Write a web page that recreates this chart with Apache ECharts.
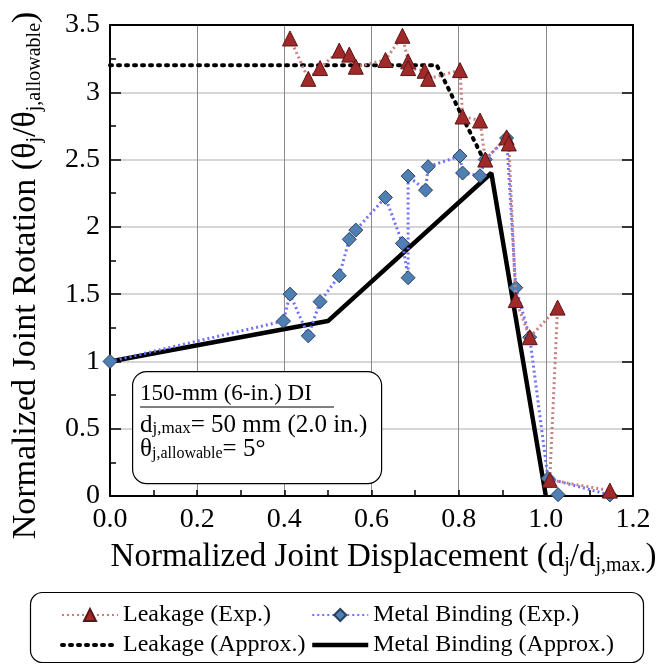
<!DOCTYPE html>
<html><head><meta charset="utf-8">
<script src="https://cdn.jsdelivr.net/npm/echarts@6/dist/echarts.min.js"></script>
<style>html,body{margin:0;padding:0;background:#fff}#c{width:658px;height:666px}</style>
</head><body><div id="c"></div>
<script>
// ---- data ----
const leakExpX = [0.413,0.455,0.482,0.526,0.549,0.564,0.632,0.671,0.684,0.684,0.722,0.730,0.803,0.809,0.849,0.861,0.910,0.915,0.931,0.963,1.027,1.009,1.147];
const leakExpY = [3.40,3.10,3.18,3.31,3.28,3.19,3.24,3.42,3.23,3.18,3.16,3.10,3.165,2.82,2.79,2.50,2.665,2.62,1.456,1.18,1.40,0.12,0.04];
const metalExpX = [0,0.398,0.413,0.455,0.482,0.526,0.549,0.564,0.632,0.671,0.684,0.684,0.724,0.730,0.803,0.809,0.849,0.861,0.910,0.931,0.963,1.005,1.147,'-',1.028];
const metalExpY = [1.0,1.30,1.50,1.19,1.444,1.637,1.907,1.976,2.219,1.877,1.622,2.377,2.273,2.447,2.526,2.40,2.38,2.50,2.66,1.548,1.18,0.13,0.008,'-',0.01];
const leakApproxX = [0,0.75,0.865];
const leakApproxY = [3.2,3.2,2.45];
const metalApproxX = [0,0.5,0.875,1.0];
const metalApproxY = [1.0,1.3,2.4,0];
const seriesNames = ['Leakage (Exp.)','Metal Binding (Exp.)','Leakage (Approx.)','Metal Binding (Approx.)'];
const xTicks = {min:0, max:1.2, interval:0.2};
const yTicks = {min:0, max:3.5, interval:0.5};

const zip = (a,b)=>a.map((v,i)=>[v,b[i]]);
const F = 'Liberation Serif';
const chart = echarts.init(document.getElementById('c'));
const G = {l:110, r:633, t:25, b:496};
const subRich = {s:{fontFamily:F, fontSize:20, color:'#000', verticalAlign:'bottom', lineHeight:19}};
const dotted = {color:'#000', width:4, type:[2,6], cap:'round'};
const solid = {color:'#000', width:4.5};

chart.setOption({
  animation:false,
  textStyle:{fontFamily:F},
  grid:{left:G.l, right:658-G.r, top:G.t, bottom:666-G.b, show:false, containLabel:false, outerBoundsMode:'none'},
  xAxis:[{
    type:'value', min:xTicks.min, max:xTicks.max, interval:xTicks.interval,
    axisLine:{onZero:false, lineStyle:{color:'#000', width:2}},
    axisTick:{inside:true, length:6, lineStyle:{color:'#000', width:1.5}},
    minorTick:{show:true, splitNumber:2, length:6, lineStyle:{color:'#000', width:1.5}},
    splitLine:{show:true, lineStyle:{color:'#8a8a8a', width:1}},
    axisLabel:{fontFamily:F, fontSize:28, color:'#000', margin:10, formatter:v=>v.toFixed(1)},
    name:'Normalized Joint Displacement (d{s|j}/d{s|j,max.})',
    nameLocation:'middle', nameGap:43,
    nameTextStyle:{fontFamily:F, fontSize:33, color:'#000', lineHeight:37, padding:[0,0,0,24], rich:subRich}
  },{
    type:'value', position:'top', min:xTicks.min, max:xTicks.max, interval:xTicks.interval,
    axisLine:{onZero:false, lineStyle:{color:'#000', width:2}},
    axisTick:{show:false}, axisLabel:{show:false}, splitLine:{show:false}
  }],
  yAxis:[{
    type:'value', min:yTicks.min, max:yTicks.max, interval:yTicks.interval,
    axisLine:{onZero:false, lineStyle:{color:'#000', width:2}},
    axisTick:{inside:true, length:11, lineStyle:{color:'#000', width:1.5}},
    minorTick:{show:true, splitNumber:2, length:6, lineStyle:{color:'#000', width:1.5}},
    splitLine:{show:true, lineStyle:{color:'#c8c8c8', width:1.5}},
    axisLabel:{fontFamily:F, fontSize:28, color:'#000', margin:10},
    name:'Normalized Joint Rotation (θ{s|j}/θ{s|j,allowable})',
    nameLocation:'middle', nameGap:65,
    nameTextStyle:{fontFamily:F, fontSize:34, color:'#000', lineHeight:38, padding:[0,30,0,0], rich:subRich}
  },{
    type:'value', position:'right', min:yTicks.min, max:yTicks.max, interval:yTicks.interval,
    axisLine:{onZero:false, lineStyle:{color:'#000', width:2}},
    axisTick:{inside:true, length:11, lineStyle:{color:'#000', width:1.5}},
    axisLabel:{show:false}, splitLine:{show:false}
  }],
  legend:[{
    data:[{name:seriesNames[0]}, {name:seriesNames[2], itemStyle:{opacity:0}, lineStyle:dotted}],
    orient:'vertical', left:55, top:598,
    itemWidth:56, itemHeight:15, itemGap:6,
    textStyle:{fontFamily:F, fontSize:24, color:'#000'}
  },{
    data:[{name:seriesNames[1]}, {name:seriesNames[3], itemStyle:{opacity:0}, lineStyle:solid}],
    orient:'vertical', left:305, top:598,
    itemWidth:56, itemHeight:15, itemGap:6,
    textStyle:{fontFamily:F, fontSize:24, color:'#000'}
  }],
  graphic:[
    {type:'rect', left:28, top:590, shape:{width:613, height:70, r:12},
     style:{fill:'none', stroke:'#000', lineWidth:1.2}, z:-1},
    {type:'rect', left:132, top:371, shape:{width:249, height:112, r:14},
     style:{fill:'#fff', stroke:'#000', lineWidth:1.2}, z:50},
    {type:'text', left:140, top:382, z:51,
     style:{text:'150-mm (6-in.) DI', font:'23px "Liberation Serif"', fill:'#000'}},
    {type:'line', shape:{x1:140, y1:407, x2:334, y2:407}, style:{stroke:'#000', lineWidth:1.2}, z:51},
    {type:'text', left:140, top:413, z:51,
     style:{text:'{n|d}{s|j,max}{n|= 50 mm (2.0 in.)}\n{n|θ}{s2|j,allowable}{n|= 5°}',
       rich:{n:{fontFamily:F, fontSize:25, color:'#000', lineHeight:24},
             s:{fontFamily:F, fontSize:17, color:'#000', verticalAlign:'bottom', lineHeight:10},
             s2:{fontFamily:F, fontSize:16, color:'#000', verticalAlign:'bottom', lineHeight:4}}}}
  ],
  series:[{
    name:seriesNames[0], type:'line', data:zip(leakExpX, leakExpY), clip:false, z:4,
    symbol:'triangle', symbolSize:15,
    lineStyle:{color:'#c98080', width:3, type:[2,3]},
    itemStyle:{color:'#a02a2a', borderColor:'#5a1515', borderWidth:1}
  },{
    name:seriesNames[1], type:'line', data:zip(metalExpX, metalExpY), clip:false, z:3,
    symbol:'diamond', symbolSize:14, connectNulls:false,
    lineStyle:{color:'#7070ff', width:3, type:[2,3]},
    itemStyle:{color:'#4f7fb3', borderColor:'#27425f', borderWidth:1}
  },{
    name:seriesNames[2], type:'line', data:zip(leakApproxX, leakApproxY), z:2,
    symbol:'none', lineStyle:dotted, itemStyle:{color:'#000'}
  },{
    name:seriesNames[3], type:'line', data:zip(metalApproxX, metalApproxY), z:2,
    symbol:'none', lineStyle:solid, itemStyle:{color:'#000'}
  }]
});
</script></body></html>
